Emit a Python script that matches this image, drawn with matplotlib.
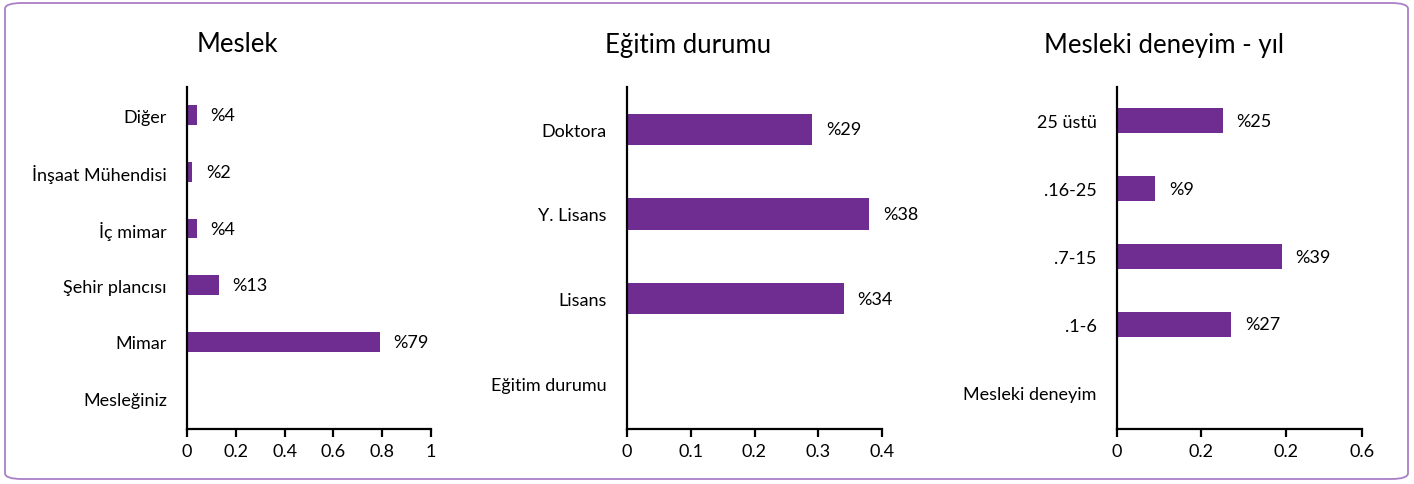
import numpy as np
import matplotlib
matplotlib.use("Agg")
import matplotlib.pyplot as plt
from matplotlib.patches import FancyBboxPatch

plt.rcParams['font.family'] = ['Lato', 'DejaVu Sans']

# Meslek
meslek_cat = ["Mesleğiniz", "Mimar", "Şehir plancısı", "İç mimar", "İnşaat Mühendisi", "Diğer"]
meslek_val = [0, 0.79, 0.13, 0.04, 0.02, 0.04]

# Eğitim durumu
egitim_cat = ["Eğitim durumu", "Lisans", "Y. Lisans", "Doktora"]
egitim_val = [0, 0.34, 0.38, 0.29]

# Mesleki deneyim
deneyim_cat = ["Mesleki deneyim", ".1-6", ".7-15", ".16-25", "25 üstü"]
deneyim_val = [0, 0.27, 0.39, 0.09, 0.25]

titles = ["Meslek", "Eğitim durumu", "Mesleki deneyim - yıl"]
xticks = [[0, 0.2, 0.4, 0.6, 0.8, 1.0], [0, 0.1, 0.2, 0.3, 0.4], [0, 0.2, 0.4, 0.58]]
xticklabels = [["0", "0.2", "0.4", "0.6", "0.8", "1"],
               ["0", "0.1", "0.2", "0.3", "0.4"],
               ["0", "0.2", "0.2", "0.6"]]
xlims = [(0, 1.0), (0, 0.4), (0, 0.58)]

bar_color = "#6f2c91"

fig = plt.figure(figsize=(14.14, 4.85), dpi=100)
border = FancyBboxPatch((5 / 1414, 5 / 485), 1403 / 1414, 476 / 485,
                        boxstyle="round,pad=0,rounding_size=0.012",
                        transform=fig.transFigure, facecolor="none",
                        edgecolor="#a97fc6", linewidth=1.3, zorder=0)
fig.patches.append(border)

rects = [[187 / 1414, 55 / 485, 244 / 1414, 342 / 485],
         [627 / 1414, 55 / 485, 255 / 1414, 342 / 485],
         [1117 / 1414, 55 / 485, 245 / 1414, 342 / 485]]
title_x = [237 / 1414, 688 / 1414, 1164 / 1414]
data = [(meslek_cat, meslek_val, 0.35), (egitim_cat, egitim_val, 0.37), (deneyim_cat, deneyim_val, 0.37)]

for i, (cats, vals, h) in enumerate(data):
    ax = fig.add_axes(rects[i])
    ax.patch.set_visible(False)
    y = np.arange(len(cats))
    ax.barh(y, vals, height=h, color=bar_color)
    for yy, v in zip(y, vals):
        if v > 0:
            ax.annotate(f"%{round(v * 100)}", (v, yy), xytext=(10, 0),
                        textcoords="offset points", va="center", ha="left", fontsize=13)
    ax.set_yticks(y)
    ax.set_yticklabels(cats, fontsize=13)
    ax.set_ylim(-0.54, len(cats) - 1 + 0.5)
    ax.set_xlim(*xlims[i])
    ax.set_xticks(xticks[i])
    ax.set_xticklabels(xticklabels[i], fontsize=13)
    ax.tick_params(axis="y", length=0, pad=14.5)
    ax.tick_params(axis="x", length=6, width=1.6, direction="out", pad=4)
    for s in ["top", "right"]:
        ax.spines[s].set_visible(False)
    for s in ["left", "bottom"]:
        ax.spines[s].set_linewidth(1.6)
    fig.text(title_x[i], 1 - 45 / 485, titles[i], fontsize=18.5, ha="center", va="center")

fig.savefig("out.png", dpi=100)
